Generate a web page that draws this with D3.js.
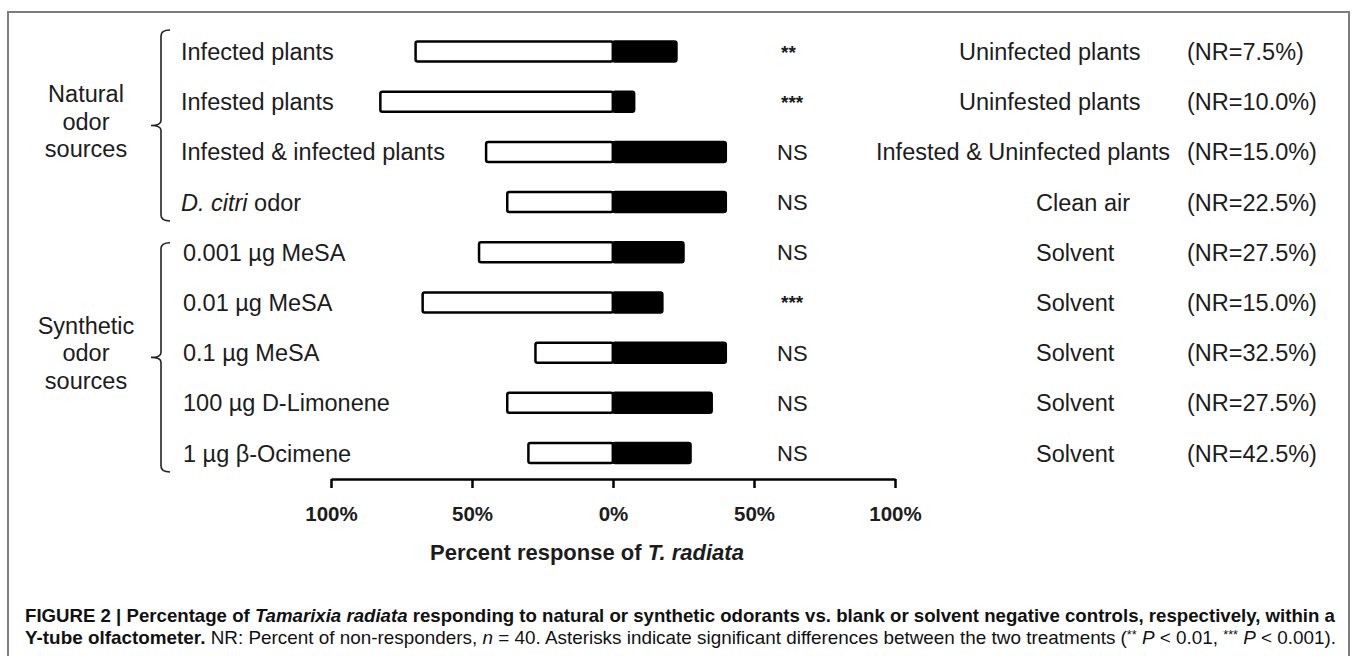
<!DOCTYPE html>
<html>
<head>
<meta charset="utf-8">
<title>Tamarixia radiata olfactometer</title>
<script src="https://d3js.org/d3.v7.min.js"></script>
<style>
  body { margin: 0; background: #fff; }
  svg text { font-family: "Liberation Sans", Arial, Helvetica, sans-serif; fill: #1c1c1c; }
  svg text.cap { font-family: "Liberation Sans Narrow", "Liberation Sans", Arial, sans-serif; }
</style>
</head>
<body>
<div id="chart"></div>
<script>
// data
const rows = ["Infected plants", "Infested plants", "Infested & infected plants", "D. citri odor",
              "0.001 µg MeSA", "0.01 µg MeSA", "0.1 µg MeSA", "100 µg D-Limonene", "1 µg β-Ocimene"];
const treatment = [70, 82.5, 45, 37.5, 47.5, 67.5, 27.5, 37.5, 30];   // % choosing odor source (white)
const control = [22.5, 7.5, 40, 40, 25, 17.5, 40, 35, 27.5];          // % choosing control (black)
const signif = ["**", "***", "NS", "NS", "NS", "***", "NS", "NS", "NS"];
const controls = ["Uninfected plants", "Uninfested plants", "Infested & Uninfected plants", "Clean air",
                  "Solvent", "Solvent", "Solvent", "Solvent", "Solvent"];
const nonResp = [7.5, 10.0, 15.0, 22.5, 27.5, 15.0, 32.5, 27.5, 42.5];
const groupNames = [["Natural", "odor", "sources"], ["Synthetic", "odor", "sources"]];
const groupRows = [[0, 3], [4, 8]];
const tickVals = [-100, -50, 0, 50, 100];
const italicPart = "D. citri";

const W = 1355, H = 656;
const svg = d3.select("#chart").append("svg")
    .attr("width", W).attr("height", H);

// outer frame (open at the bottom)
svg.append("rect")
    .attr("x", 8).attr("y", 12)
    .attr("width", 1341).attr("height", 700)
    .attr("fill", "none").attr("stroke", "#7d7d7d").attr("stroke-width", 2);

const x = d3.scaleLinear().domain([-100, 100]).range([331, 895]);
const y = d3.scalePoint().domain(d3.range(rows.length)).range([51.5, 453]);
const barH = 20;

// bars
const g = svg.append("g");
g.selectAll("rect.treat")
    .data(treatment)
    .enter().append("rect")
    .attr("class", "treat")
    .attr("x", d => x(-d))
    .attr("y", (d, i) => y(i) - barH / 2)
    .attr("width", d => x(0) - x(-d))
    .attr("height", barH)
    .attr("rx", 2)
    .attr("fill", "#fff").attr("stroke", "#000").attr("stroke-width", 2.5);

g.selectAll("rect.ctrl")
    .data(control)
    .enter().append("rect")
    .attr("class", "ctrl")
    .attr("x", x(0))
    .attr("y", (d, i) => y(i) - barH / 2)
    .attr("width", d => x(d) - x(0))
    .attr("height", barH)
    .attr("rx", 2)
    .attr("fill", "#000").attr("stroke", "#000").attr("stroke-width", 2.5);

// x axis
const axis = d3.axisBottom(x)
    .tickValues(tickVals)
    .tickSize(9)
    .tickSizeOuter(0)
    .tickPadding(18)
    .tickFormat(d => Math.abs(d) + "%");

const ax = svg.append("g")
    .attr("transform", "translate(0,479)")
    .call(axis);
ax.select(".domain").attr("stroke", "#000").attr("stroke-width", 2.5);
ax.selectAll(".tick line").attr("stroke", "#000").attr("stroke-width", 2.5);
ax.selectAll(".tick text")
    .attr("font-family", "Liberation Sans, Arial, sans-serif")
    .attr("font-size", 20.5).attr("font-weight", "bold")
    .attr("fill", "#1c1c1c");

const title = svg.append("text")
    .attr("x", 587).attr("y", 560)
    .attr("text-anchor", "middle")
    .attr("font-size", 22).attr("font-weight", "bold");
title.append("tspan").text("Percent response of ");
title.append("tspan").attr("font-style", "italic").text("T. radiata");

// row labels
const labX = i => (i < 4 ? 181 : 183);
rows.forEach((r, i) => {
    const t = svg.append("text")
        .attr("x", labX(i)).attr("y", y(i) + 8.5)
        .attr("font-size", 23.5);
    if (r.startsWith(italicPart)) {
        t.append("tspan").attr("font-style", "italic").text(italicPart);
        t.append("tspan").text(r.slice(italicPart.length));
    } else {
        t.text(r);
    }
});

// significance
svg.selectAll("text.sig")
    .data(signif)
    .enter().append("text")
    .attr("class", "sig")
    .attr("x", d => d === "NS" ? 777 : 781)
    .attr("y", (d, i) => d === "NS" ? y(i) + 8 : y(i) + 7)
    .attr("font-size", d => d === "NS" ? 22 : 19)
    .attr("font-weight", d => d === "NS" ? "normal" : "bold")
    .text(d => d);

// control labels (placed as in the figure)
const ctrlX = [959, 959, 876, 1036, 1036, 1036, 1036, 1036, 1036];
svg.selectAll("text.ctrl")
    .data(controls)
    .enter().append("text")
    .attr("class", "ctrl")
    .attr("x", (d, i) => ctrlX[i])
    .attr("y", (d, i) => y(i) + 8.5)
    .attr("font-size", 23.5)
    .text(d => d);

svg.selectAll("text.nr")
    .data(nonResp)
    .enter().append("text")
    .attr("class", "nr")
    .attr("x", 1187)
    .attr("y", (d, i) => y(i) + 8.5)
    .attr("font-size", 23.5)
    .text(d => "(NR=" + d.toFixed(1) + "%)");

// group braces and labels
const bracePad = [[-21.5, 19], [-9.5, 19]];
groupRows.forEach((gr, k) => {
    const top = y(gr[0]) + bracePad[k][0];
    const bot = y(gr[1]) + bracePad[k][1];
    const mid = (top + bot) / 2;
    const bx = 161;
    const p = d3.path();
    p.moveTo(bx + 9, top);
    p.quadraticCurveTo(bx, top, bx, top + 6);
    p.lineTo(bx, mid - 5);
    p.quadraticCurveTo(bx, mid, bx - 10, mid);
    p.quadraticCurveTo(bx, mid, bx, mid + 5);
    p.lineTo(bx, bot - 6);
    p.quadraticCurveTo(bx, bot, bx + 9, bot);
    svg.append("path")
        .attr("d", p.toString())
        .attr("fill", "none").attr("stroke", "#222").attr("stroke-width", 1.6);

    groupNames[k].forEach((line, j) => {
        svg.append("text")
            .attr("x", 86)
            .attr("y", mid + 4 + (j - 1) * 27.5)
            .attr("text-anchor", "middle")
            .attr("font-size", 23.5)
            .text(line);
    });
});

// caption, squeezed to the figure width like the condensed journal font
function fitLine(t, x0, x1) {
    const w = t.node().getComputedTextLength();
    t.attr("transform", "translate(" + x0 + ",0) scale(" + ((x1 - x0) / w) + ",1)");
}

const cap1 = svg.append("text").attr("class", "cap").attr("x", 0).attr("y", 622)
    .attr("font-size", 18).attr("font-weight", "bold").style("fill", "#111");
cap1.append("tspan").text("FIGURE 2 | Percentage of ");
cap1.append("tspan").attr("font-style", "italic").text("Tamarixia radiata");
cap1.append("tspan").text(" responding to natural or synthetic odorants vs. blank or solvent negative controls, respectively, within a");
fitLine(cap1, 25, 1336);

const cap2 = svg.append("text").attr("class", "cap").attr("x", 0).attr("y", 644)
    .attr("font-size", 18).style("fill", "#111");
cap2.append("tspan").attr("font-weight", "bold").text("Y-tube olfactometer.");
cap2.append("tspan").text(" NR: Percent of non-responders, ");
cap2.append("tspan").attr("font-style", "italic").text("n");
cap2.append("tspan").text(" = 40. Asterisks indicate significant differences between the two treatments (");
cap2.append("tspan").attr("font-size", 12).attr("dy", -5).text("**");
cap2.append("tspan").attr("font-style", "italic").attr("dy", 5).text(" P");
cap2.append("tspan").text(" < 0.01, ");
cap2.append("tspan").attr("font-size", 12).attr("dy", -5).text("***");
cap2.append("tspan").attr("font-style", "italic").attr("dy", 5).text(" P");
cap2.append("tspan").text(" < 0.001).");
fitLine(cap2, 25, 1337);
</script>
</body>
</html>
